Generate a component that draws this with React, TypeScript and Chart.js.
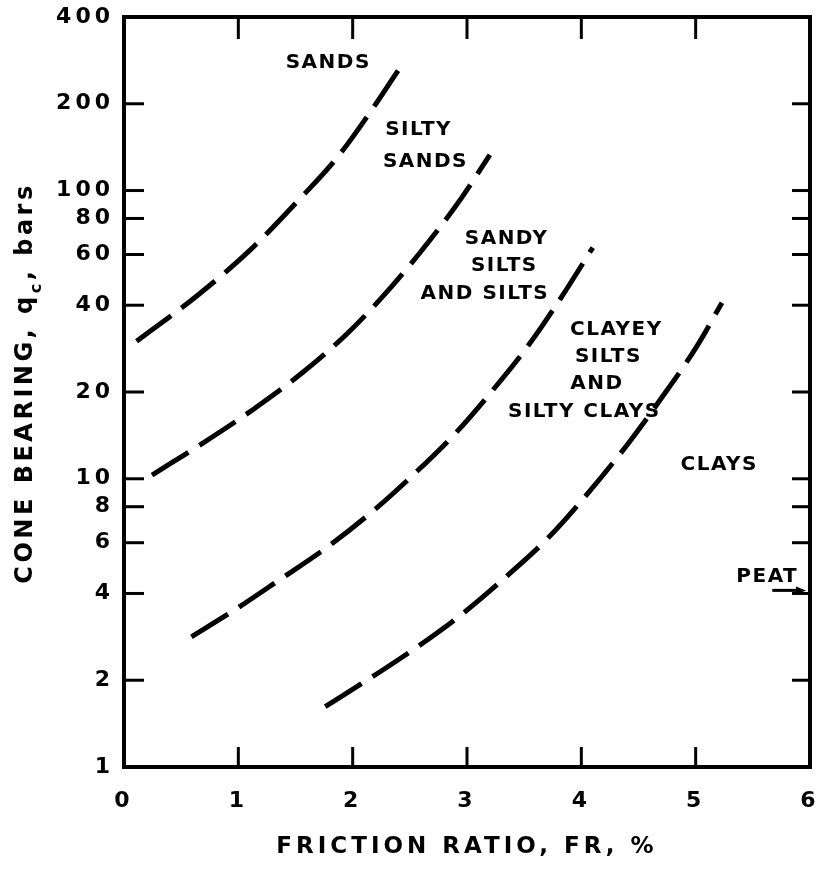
import { useEffect, useRef } from 'react';
import { Chart, registerables } from 'chart.js';

Chart.register(...registerables);

// Axis ticks
const xTickValues = [0, 1, 2, 3, 4, 5, 6];
const yTickValues = [1, 2, 4, 6, 8, 10, 20, 40, 60, 80, 100, 200, 400];
const innerXTickValues = [1, 2, 3, 4, 5];
const innerYTickValues = [2, 4, 6, 8, 10, 20, 40, 60, 80, 100, 200];

// Boundary: sands / silty sands
const sandsFR = [0.11, 0.65, 1.1, 1.52, 1.87, 2.2, 2.44];
const sandsQc = [30, 43.5, 62, 92, 131, 199, 277];

// Boundary: silty sands / sandy silts
const siltySandsFR = [0.245, 0.69, 1.13, 1.57, 1.96, 2.34, 2.68, 2.96, 3.2];
const siltySandsQc = [10.3, 13.3, 17.4, 23.5, 32.1, 46.4, 67.6, 95.3, 133];

// Boundary: sandy silts / clayey silts
const sandySiltsFR = [0.59, 0.97, 1.36, 1.78, 2.17, 2.55, 2.9, 3.23, 3.55, 3.83, 4.1];
const sandySiltsQc = [2.83, 3.51, 4.46, 5.8, 7.68, 10.5, 14.4, 20.4, 29.5, 42.9, 63.4];

// Boundary: clayey silts / clays
const clayeySiltsFR = [1.76, 2.24, 2.63, 2.98, 3.36, 3.71, 4.06, 4.4, 4.69, 5.01, 5.23];
const clayeySiltsQc = [1.62, 2.14, 2.72, 3.45, 4.64, 6.24, 8.93, 13.1, 18.8, 28.8, 40.8];

// Zone labels (data coordinates)
const zoneNames = ['SANDS', 'SILTY', 'SANDS', 'SANDY', 'SILTS', 'AND SILTS', 'CLAYEY', 'SILTS', 'AND', 'SILTY CLAYS', 'CLAYS', 'PEAT'];
const zoneFR = [1.78, 2.57, 2.63, 3.34, 3.32, 3.15, 4.3, 4.23, 4.13, 4.02, 5.2, 5.62];
const zoneQc = [278, 162, 126, 68, 55, 43.9, 32.9, 26.5, 21.4, 17.1, 11.2, 4.57];
const peatArrowFR = [5.67, 6.0];
const peatArrowQc = 4.1;

const toPoints = (xs: number[], ys: number[]) => xs.map((x, i) => ({ x, y: ys[i] }));

const FONT = '"DejaVu Sans", sans-serif';

const decorPlugin = {
  id: 'decor',
  beforeDraw(chart: any) {
    (chart.ctx as any).letterSpacing = '4px';
  },
  afterDraw(chart: any) {
    const { ctx, chartArea: a, scales } = chart;
    const xs = scales.x;
    const ys = scales.y;
    ctx.save();
    (ctx as any).letterSpacing = '0px';
    ctx.strokeStyle = '#000';
    ctx.fillStyle = '#000';
    ctx.lineCap = 'butt';
    const line = (x1: number, y1: number, x2: number, y2: number) => {
      ctx.beginPath();
      ctx.moveTo(x1, y1);
      ctx.lineTo(x2, y2);
      ctx.stroke();
    };
    // top and right frame
    ctx.lineWidth = 4;
    ctx.beginPath();
    ctx.moveTo(a.left - 2, a.top);
    ctx.lineTo(a.right, a.top);
    ctx.lineTo(a.right, a.bottom + 2);
    ctx.stroke();
    // inward tick marks
    ctx.lineWidth = 3;
    innerXTickValues.forEach((v) => {
      const px = xs.getPixelForValue(v);
      line(px, a.bottom, px, a.bottom - 20);
      line(px, a.top, px, a.top + 22);
    });
    innerYTickValues.forEach((v) => {
      const py = ys.getPixelForValue(v);
      line(a.left, py, a.left + 20, py);
      line(a.right, py, a.right - 18, py);
    });
    // zone labels
    ctx.font = `bold 20px ${FONT}`;
    (ctx as any).letterSpacing = '1.5px';
    ctx.textAlign = 'center';
    ctx.textBaseline = 'middle';
    zoneNames.forEach((t, i) => {
      ctx.fillText(t, xs.getPixelForValue(zoneFR[i]) + 0.75, ys.getPixelForValue(zoneQc[i]));
    });
    // peat arrow
    const ax1 = xs.getPixelForValue(peatArrowFR[0]);
    const ax2 = xs.getPixelForValue(peatArrowFR[1]) - 4;
    const ay = ys.getPixelForValue(peatArrowQc);
    ctx.lineWidth = 3;
    line(ax1, ay, ax2 - 6, ay);
    ctx.beginPath();
    ctx.moveTo(ax2, ay);
    ctx.lineTo(ax2 - 10, ay - 4);
    ctx.lineTo(ax2 - 10, ay + 4);
    ctx.closePath();
    ctx.fill();
    // y-axis title with subscript
    const midY = (a.top + a.bottom) / 2 - 9;
    ctx.translate(32, midY);
    ctx.rotate(-Math.PI / 2);
    ctx.textAlign = 'left';
    ctx.textBaseline = 'alphabetic';
    (ctx as any).letterSpacing = '3.5px';
    const mainFont = `bold 24px ${FONT}`;
    const subFont = `bold 16px ${FONT}`;
    const p1 = 'CONE BEARING, q';
    const p2 = 'c';
    const p3 = ', bars';
    ctx.font = mainFont;
    const w1 = ctx.measureText(p1).width;
    const w3 = ctx.measureText(p3).width;
    ctx.font = subFont;
    const w2 = ctx.measureText(p2).width;
    let cx = -(w1 + w2 + w3) / 2;
    ctx.font = mainFont;
    ctx.fillText(p1, cx, 0);
    cx += w1;
    ctx.font = subFont;
    ctx.fillText(p2, cx, 9);
    cx += w2;
    ctx.font = mainFont;
    ctx.fillText(p3, cx, 0);
    ctx.restore();
  },
};

const curveStyle = {
  borderColor: '#000',
  borderWidth: 5,
  borderDash: [43, 13],
  borderCapStyle: 'butt' as const,
  pointRadius: 0,
  showLine: true,
  fill: false,
  cubicInterpolationMode: 'monotone' as const,
};

const zeroPadding = (s: any) => {
  s.paddingTop = 0;
  s.paddingBottom = 0;
  s.paddingLeft = 0;
  s.paddingRight = 0;
};

export default function App() {
  const canvasRef = useRef<HTMLCanvasElement | null>(null);

  useEffect(() => {
    if (!canvasRef.current) return;
    const chart = new Chart(canvasRef.current, {
      type: 'scatter',
      data: {
        datasets: [
          { label: 'Sands boundary', data: toPoints(sandsFR, sandsQc), ...curveStyle },
          { label: 'Silty sands boundary', data: toPoints(siltySandsFR, siltySandsQc), ...curveStyle },
          { label: 'Sandy silts boundary', data: toPoints(sandySiltsFR, sandySiltsQc), ...curveStyle },
          { label: 'Clayey silts boundary', data: toPoints(clayeySiltsFR, clayeySiltsQc), ...curveStyle },
        ],
      },
      options: {
        animation: false,
        responsive: false,
        devicePixelRatio: 1,
        layout: { padding: { top: 17, right: 15, left: 0, bottom: 0 } },
        plugins: {
          legend: { display: false },
          tooltip: { enabled: false },
        },
        scales: {
          x: {
            type: 'linear',
            position: 'bottom',
            min: 0,
            max: 6,
            afterBuildTicks: (s: any) => {
              s.ticks = xTickValues.map((v) => ({ value: v }));
            },
            afterFit: (s: any) => {
              s.height = 106;
              zeroPadding(s);
            },
            grid: { display: true, drawOnChartArea: false, drawTicks: false },
            border: { display: true, width: 4, color: '#000' },
            ticks: {
              autoSkip: false,
              maxRotation: 0,
              padding: 21,
              color: '#000',
              font: { family: FONT, size: 22, weight: 'bold' },
              callback: (v: any) => String(v),
            },
            title: {
              display: true,
              text: 'FRICTION RATIO, FR, %',
              color: '#000',
              font: { family: FONT, size: 23, weight: 'bold' },
              padding: { top: 0, bottom: 12 },
            },
          },
          y: {
            type: 'logarithmic',
            position: 'left',
            min: 1,
            max: 400,
            afterBuildTicks: (s: any) => {
              s.ticks = yTickValues.map((v) => ({ value: v }));
            },
            afterFit: (s: any) => {
              s.width = 124;
              zeroPadding(s);
            },
            grid: { display: true, drawOnChartArea: false, drawTicks: false },
            border: { display: true, width: 4, color: '#000' },
            ticks: {
              autoSkip: false,
              padding: 10,
              color: '#000',
              font: { family: FONT, size: 22, weight: 'bold' },
              callback: (v: any) => String(v),
            },
          },
        },
      },
      plugins: [decorPlugin],
    });
    return () => chart.destroy();
  }, []);

  return (
    <div style={{ position: 'fixed', left: 0, top: 0, width: 825, height: 873, background: '#fff' }}>
      <canvas ref={canvasRef} width={825} height={873} style={{ display: 'block' }} />
    </div>
  );
}
